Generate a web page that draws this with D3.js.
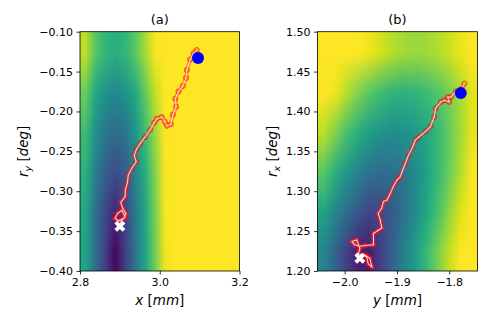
<!DOCTYPE html>
<html>
<head>
<meta charset="utf-8">
<script src="https://cdn.jsdelivr.net/npm/d3@7"></script>
<style>
  body { margin: 0; background: #fff; }
  text { font-family: "DejaVu Sans", sans-serif; fill: #000; }
</style>
</head>
<body>
<div id="chart"></div>
<script>
// ---- data ----

// panel (a): background cost map, rows top -> bottom, colour position 0..1
var heatA = [
  [0.90, 0.74, 0.66, 0.63, 0.66, 0.74, 0.86, 0.99, 1, 1, 1, 1, 1, 1, 1, 1],
  [0.77, 0.60, 0.51, 0.47, 0.50, 0.60, 0.75, 0.91, 1, 1, 1, 1, 1, 1, 1, 1],
  [0.69, 0.51, 0.40, 0.35, 0.39, 0.52, 0.68, 0.85, 1, 1, 1, 1, 1, 1, 1, 1],
  [0.64, 0.43, 0.30, 0.23, 0.29, 0.44, 0.62, 0.81, 0.99, 1, 1, 1, 1, 1, 1, 1],
  [0.60, 0.38, 0.22, 0.11, 0.21, 0.40, 0.59, 0.79, 0.99, 1, 1, 1, 1, 1, 1, 1],
  [0.59, 0.37, 0.19, 0.02, 0.18, 0.38, 0.58, 0.78, 0.98, 1, 1, 1, 1, 1, 1, 1]
];
// panel (b)
var heatB = [
  [1, 1, 1, 1, 0.98, 0.93, 0.89, 0.86, 0.85, 0.86, 0.88, 0.92, 0.97, 1],
  [1, 0.98, 0.89, 0.81, 0.74, 0.69, 0.65, 0.64, 0.65, 0.68, 0.73, 0.79, 0.87, 0.96],
  [0.90, 0.81, 0.71, 0.63, 0.56, 0.52, 0.49, 0.50, 0.54, 0.60, 0.67, 0.76, 0.86, 0.96],
  [0.74, 0.63, 0.53, 0.45, 0.38, 0.35, 0.36, 0.40, 0.48, 0.57, 0.67, 0.77, 0.88, 1],
  [0.58, 0.46, 0.36, 0.27, 0.21, 0.22, 0.28, 0.37, 0.48, 0.59, 0.71, 0.83, 0.95, 1],
  [0.45, 0.32, 0.19, 0.09, 0.08, 0.19, 0.31, 0.43, 0.55, 0.67, 0.79, 0.91, 1, 1]
];

// optimisation paths
var pathAx = [3.093, 3.085, 3.076, 3.068, 3.066, 3.058, 3.047, 3.039, 3.041, 3.033, 3.028, 3.018, 3.013,
  3.005, 2.993, 2.986, 2.976, 2.963, 2.951, 2.942, 2.936, 2.941, 2.930, 2.921, 2.919, 2.914, 2.913,
  2.902, 2.907, 2.915, 2.910, 2.896, 2.888, 2.894, 2.905, 2.913, 2.900];
var pathAry = [-0.123, -0.127, -0.135, -0.148, -0.158, -0.168, -0.175, -0.184, -0.194, -0.204, -0.216, -0.218, -0.213,
  -0.207, -0.209, -0.214, -0.223, -0.232, -0.240, -0.247, -0.255, -0.263, -0.271, -0.280, -0.289, -0.298, -0.307,
  -0.314, -0.321, -0.328, -0.334, -0.337, -0.334, -0.328, -0.324, -0.332, -0.339];

var pathBy = [-1.771, -1.776, -1.787, -1.797, -1.803, -1.800, -1.810, -1.816, -1.826, -1.829, -1.836, -1.845,
  -1.858, -1.865, -1.871, -1.878, -1.884, -1.894, -1.900, -1.907, -1.913, -1.919, -1.926, -1.929, -1.936,
  -1.932, -1.929, -1.936, -1.945, -1.945, -1.961, -1.971, -1.981, -1.986, -1.977, -1.971, -1.974, -1.958,
  -1.955, -1.948, -1.952, -1.961, -1.971];
var pathBrx = [1.435, 1.428, 1.425, 1.418, 1.418, 1.412, 1.414, 1.412, 1.404, 1.393, 1.381, 1.375,
  1.368, 1.364, 1.354, 1.345, 1.335, 1.318, 1.314, 1.306, 1.297, 1.289, 1.287, 1.279, 1.272,
  1.264, 1.254, 1.251, 1.247, 1.233, 1.232, 1.231, 1.233, 1.237, 1.239, 1.228, 1.222, 1.218,
  1.209, 1.205, 1.216, 1.220, 1.218];

// start (blue) and end (white X) points
var startA = [3.096, -0.133], endA = [2.900, -0.344];
var startB = [-1.778, 1.423], endB = [-1.971, 1.216];

var ticksAx = [2.8, 3.0, 3.2], ticksAy = [-0.10, -0.15, -0.20, -0.25, -0.30, -0.35, -0.40];
var ticksBx = [-2.0, -1.9, -1.8], ticksBy = [1.20, 1.25, 1.30, 1.35, 1.40, 1.45, 1.50];

// ---- layout ----
var width = 491, height = 327;
var plotTop = 31.7, plotBottom = 271;

var svg = d3.select("#chart").append("svg")
  .attr("width", width).attr("height", height);

function heatImage(grid) {
  var rows = grid.length, cols = grid[0].length;
  var canvas = document.createElement("canvas");
  canvas.width = cols; canvas.height = rows;
  var ctx = canvas.getContext("2d");
  var img = ctx.createImageData(cols, rows);
  grid.forEach(function(row, j) {
    row.forEach(function(v, i) {
      var c = d3.rgb(d3.interpolateViridis(v));
      var k = (j * cols + i) * 4;
      img.data[k] = c.r; img.data[k + 1] = c.g; img.data[k + 2] = c.b; img.data[k + 3] = 255;
    });
  });
  ctx.putImageData(img, 0, 0);
  return canvas.toDataURL();
}

function panel(opt) {
  var x = d3.scaleLinear().domain(opt.xDomain).range([opt.left, opt.right]);
  var y = d3.scaleLinear().domain(opt.yDomain).range([plotBottom, plotTop]);
  var g = svg.append("g");

  g.append("image")
    .attr("href", heatImage(opt.heat))
    .attr("x", opt.left).attr("y", plotTop)
    .attr("width", opt.right - opt.left)
    .attr("height", plotBottom - plotTop)
    .attr("preserveAspectRatio", "none");

  var pts = opt.px.map(function(d, i) { return [x(d), y(opt.py[i])]; });
  var line = d3.line()(pts);

  // soft red band under the markers
  g.append("path")
    .attr("d", line)
    .attr("fill", "none")
    .attr("stroke", "#ff2a2a").attr("stroke-width", 4)
    .attr("stroke-opacity", 0.4)
    .attr("stroke-linejoin", "round");

  g.selectAll("circle.mk").data(pts).enter().append("circle")
    .attr("class", "mk")
    .attr("cx", function(d) { return d[0]; })
    .attr("cy", function(d) { return d[1]; })
    .attr("r", 2.6)
    .attr("fill", "#ff3030").attr("fill-opacity", 0.3)
    .attr("stroke", "#ff0000").attr("stroke-opacity", 0.6).attr("stroke-width", 0.9);

  g.append("path")
    .attr("d", line)
    .attr("fill", "none")
    .attr("stroke", "#ffe0e0").attr("stroke-width", 1.1)
    .attr("stroke-opacity", 0.9);

  g.append("circle")
    .attr("cx", x(opt.start[0])).attr("cy", y(opt.start[1]))
    .attr("r", 6).attr("fill", "#0000ff");

  g.append("path")
    .attr("d", d3.symbol().type(d3.symbolCross).size(75)())
    .attr("transform", "translate(" + x(opt.end[0]) + "," + y(opt.end[1]) + ") rotate(45)")
    .attr("fill", "#fff");

  // frame
  g.append("rect")
    .attr("x", opt.left).attr("y", plotTop)
    .attr("width", opt.right - opt.left).attr("height", plotBottom - plotTop)
    .attr("fill", "none").attr("stroke", "#000").attr("stroke-width", 0.8);

  var xAxis = g.append("g")
    .attr("transform", "translate(0," + plotBottom + ")")
    .call(d3.axisBottom(x).tickValues(opt.xTicks).tickFormat(d3.format(".1f"))
      .tickSize(3.5).tickPadding(3.5));
  var yAxis = g.append("g")
    .attr("transform", "translate(" + opt.left + ",0)")
    .call(d3.axisLeft(y).tickValues(opt.yTicks).tickFormat(d3.format(".2f"))
      .tickSize(3.5).tickPadding(3.5));
  [xAxis, yAxis].forEach(function(a) {
    a.select(".domain").remove();
    a.selectAll("line").attr("stroke", "#000").attr("stroke-width", 0.8);
    a.selectAll("text").attr("font-size", 11).attr("fill", "#000")
      .attr("font-family", "DejaVu Sans, sans-serif");
  });

  var cx = (opt.left + opt.right) / 2;
  g.append("text").attr("x", cx).attr("y", 23.5)
    .attr("text-anchor", "middle").attr("font-size", 13).text(opt.title);

  var xl = g.append("text").attr("x", cx).attr("y", 305)
    .attr("text-anchor", "middle").attr("font-size", 13.5);
  xl.append("tspan").attr("font-style", "italic").text(opt.xName);
  xl.append("tspan").text(" [");
  xl.append("tspan").attr("font-style", "italic").text("mm");
  xl.append("tspan").text("]");

  var yl = g.append("text")
    .attr("transform", "translate(" + opt.yLabelX + "," + (plotTop + plotBottom) / 2 + ") rotate(-90)")
    .attr("text-anchor", "middle").attr("font-size", 13.5);
  yl.append("tspan").attr("font-style", "italic").text("r");
  yl.append("tspan").attr("font-style", "italic").attr("font-size", 9.5)
    .attr("dy", 3).text(opt.ySub);
  yl.append("tspan").attr("dy", -3).text(" [");
  yl.append("tspan").attr("font-style", "italic").text("deg");
  yl.append("tspan").text("]");
}

panel({
  left: 80, right: 239.5, xDomain: [2.8, 3.2], yDomain: [-0.40, -0.10],
  heat: heatA, px: pathAx, py: pathAry, start: startA, end: endA,
  xTicks: ticksAx, yTicks: ticksAy, title: "(a)", xName: "x", ySub: "y", yLabelX: 27.5
});
panel({
  left: 317.5, right: 477.5, xDomain: [-2.052, -1.746], yDomain: [1.20, 1.50],
  heat: heatB, px: pathBy, py: pathBrx, start: startB, end: endB,
  xTicks: ticksBx, yTicks: ticksBy, title: "(b)", xName: "y", ySub: "x", yLabelX: 277
});
</script>
</body>
</html>
